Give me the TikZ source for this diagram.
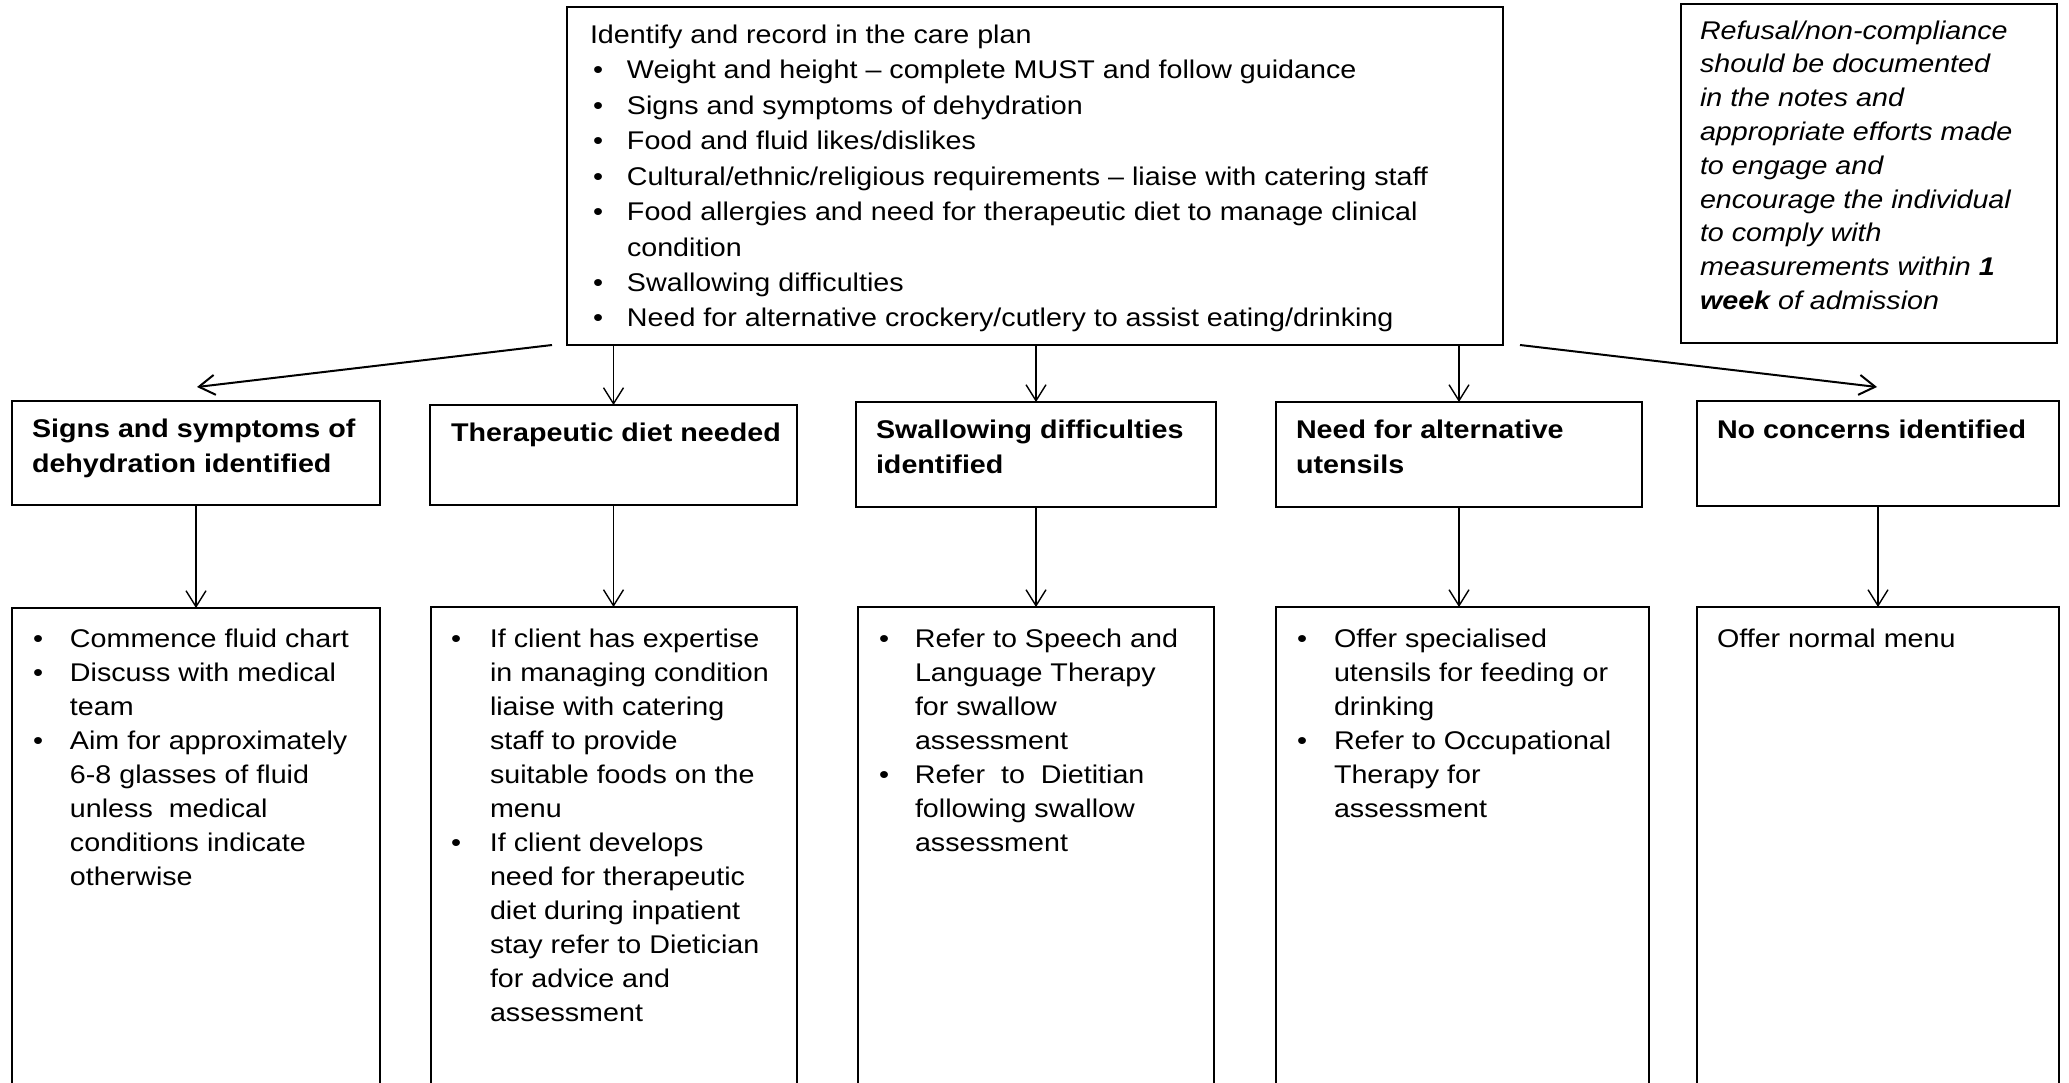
\documentclass[tikz,border=0pt]{standalone}
\usepackage{fontspec}
\setmainfont{Liberation Sans}[FakeStretch=1.12]
\usetikzlibrary{arrows.meta}
\newlength\bw
\newcommand\bi{\makebox[\bw][l]{\textbullet}}
\newcommand\ci{\hspace*{\bw}}
\begin{document}
\begin{tikzpicture}[x=1pt,y=-1pt,
  box/.style={draw, line width=1.6pt, inner sep=0pt, outer sep=0pt, anchor=north west},
  txt/.style={anchor=base west, inner sep=0pt, outer sep=0pt, font=\fontsize{25.6}{34}\selectfont},
  toptxt/.style={txt, font=\fontsize{25.6}{35.45}\selectfont},
  headtxt/.style={txt, font=\bfseries\fontsize{25.6}{35.5}\selectfont},
  notetxt/.style={txt, font=\itshape\fontsize{25.6}{33.8}\selectfont},
  arr/.style={line width=1.4pt, -{Straight Barb[length=16pt,width=20pt]}},
  darr/.style={line width=2pt, -{Straight Barb[length=16pt,width=20pt]}}]
\clip (0,0) rectangle (2069,1082);
\fill[white] (0,0) rectangle (2069,1082);

% boxes
\node[box, minimum width=936, minimum height=338] (top) at (567,7) {};
\node[box, minimum width=376, minimum height=339] (note) at (1681,4) {};
\node[box, minimum width=368, minimum height=104] (b1) at (12,401) {};
\node[box, minimum width=367, minimum height=100] (b2) at (430,405) {};
\node[box, minimum width=360, minimum height=105] (b3) at (856,402) {};
\node[box, minimum width=366, minimum height=105] (b4) at (1276,402) {};
\node[box, minimum width=362, minimum height=105] (b5) at (1697,401) {};
\node[box, minimum width=368, minimum height=600] (c1) at (12,608) {};
\node[box, minimum width=366, minimum height=600] (c2) at (431,607) {};
\node[box, minimum width=356, minimum height=600] (c3) at (858,607) {};
\node[box, minimum width=373, minimum height=600] (c4) at (1276,607) {};
\node[box, minimum width=362, minimum height=600] (c5) at (1697,607) {};

% texts
\node[toptxt] (toptext) at (590,43.3) {\setlength\bw{34pt}\begin{tabular}[t]{@{}l@{}}
Identify and record in the care plan\\
\hspace*{3pt}\bi Weight and height – complete MUST and follow guidance\\
\hspace*{3pt}\bi Signs and symptoms of dehydration\\
\hspace*{3pt}\bi Food and fluid likes/dislikes\\
\hspace*{3pt}\bi Cultural/ethnic/religious requirements – liaise with catering staff\\
\hspace*{3pt}\bi Food allergies and need for therapeutic diet to manage clinical\\
\hspace*{3pt}\ci condition\\
\hspace*{3pt}\bi Swallowing difficulties\\
\hspace*{3pt}\bi Need for alternative crockery/cutlery to assist eating/drinking
\end{tabular}};

\node[notetxt] (notetext) at (1700,39) {\begin{tabular}[t]{@{}l@{}}
Refusal/non-compliance\\
should be documented\\
in the notes and\\
appropriate efforts made\\
to engage and\\
encourage the individual\\
to comply with\\
measurements within \textbf{1}\\
\textbf{week} of admission
\end{tabular}};

\node[headtxt] (h1) at (32,437) {\begin{tabular}[t]{@{}l@{}}Signs and symptoms of\\dehydration identified\end{tabular}};
\node[headtxt] (h2) at (451,441.7) {Therapeutic diet needed};
\node[headtxt] (h3) at (876,438) {\begin{tabular}[t]{@{}l@{}}Swallowing difficulties\\identified\end{tabular}};
\node[headtxt] (h4) at (1296,438) {\begin{tabular}[t]{@{}l@{}}Need for alternative\\utensils\end{tabular}};
\node[headtxt] (h5) at (1717,438) {No concerns identified};

\node[txt] (t1) at (33,647) {\setlength\bw{37pt}\begin{tabular}[t]{@{}l@{}}
\bi Commence fluid chart\\
\bi Discuss with medical\\
\ci team\\
\bi Aim for approximately\\
\ci 6-8 glasses of fluid\\
\ci unless~~medical\\
\ci conditions indicate\\
\ci otherwise
\end{tabular}};

\node[txt] (t2) at (451,647) {\setlength\bw{39pt}\begin{tabular}[t]{@{}l@{}}
\bi If client has expertise\\
\ci in managing condition\\
\ci liaise with catering\\
\ci staff to provide\\
\ci suitable foods on the\\
\ci menu\\
\bi If client develops\\
\ci need for therapeutic\\
\ci diet during inpatient\\
\ci stay refer to Dietician\\
\ci for advice and\\
\ci assessment
\end{tabular}};

\node[txt] (t3) at (879,647) {\setlength\bw{36pt}\begin{tabular}[t]{@{}l@{}}
\bi Refer to Speech and\\
\ci Language Therapy\\
\ci for swallow\\
\ci assessment\\
\bi Refer~ to~ Dietitian\\
\ci following swallow\\
\ci assessment
\end{tabular}};

\node[txt] (t4) at (1297,647) {\setlength\bw{37pt}\begin{tabular}[t]{@{}l@{}}
\bi Offer specialised\\
\ci utensils for feeding or\\
\ci drinking\\
\bi Refer to Occupational\\
\ci Therapy for\\
\ci assessment
\end{tabular}};

\node[txt] (t5) at (1717,647) {Offer normal menu};

% connectors
\coordinate (tl) at (552,345);
\coordinate (tlend) at (197,387);
\coordinate (tr) at (1520,345);
\coordinate (trend) at (1877,387);
\draw[darr] (tl) -- (tlend);
\draw[darr] (tr) -- (trend);
\draw[arr] (top.south -| b2.north) -- (b2.north);
\draw[arr] (top.south -| b3.north) -- (b3.north);
\draw[arr] (top.south -| b4.north) -- (b4.north);
\foreach \i in {1,...,5}{
  \draw[arr] (b\i.south) -- (b\i.south |- c\i.north);
}
\end{tikzpicture}
\end{document}
